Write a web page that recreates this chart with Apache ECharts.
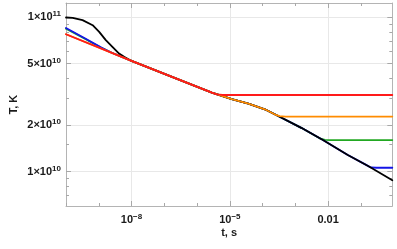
<!DOCTYPE html>
<html><head><meta charset="utf-8">
<script src="https://cdn.jsdelivr.net/npm/echarts@6/dist/echarts.min.js"></script>
<style>html,body{margin:0;padding:0;background:#fff}#c{width:397px;height:249px}</style>
</head><body><div id="c"></div>
<script>
// ---- data (t in s, T in K) ----
const blackT = [1e-10, 1.6e-10, 3.2e-10, 6.5e-10, 1.03e-9, 1.64e-9, 2.61e-9, 4.17e-9, 5.92e-9, 8.6e-9, 1e-8, 2.83e-6, 1.15e-5, 3.68e-5, 1.17e-4, 2.99e-4, 1.52e-3, 6.95e-3, 3.99e-2, 0.177, 0.91];
const blackV = [9.91e10, 9.86e10, 9.53e10, 8.84e10, 8.0e10, 7.08e10, 6.40e10, 5.80e10, 5.52e10, 5.29e10, 5.2e10, 3.24e10, 2.94e10, 2.75e10, 2.53e10, 2.29e10, 1.92e10, 1.60e10, 1.28e10, 1.08e10, 8.8e9];
const blueT = [1e-10, 4e-10, 1.2e-9, 2.5e-9, 1e-8, 2.83e-6, 1.15e-5, 3.68e-5, 1.17e-4, 2.99e-4, 1.52e-3, 6.95e-3, 3.99e-2, 0.14, 0.2, 0.3, 0.91];
const blueV = [8.49e10, 7.23e10, 6.33e10, 5.87e10, 5.2e10, 3.24e10, 2.94e10, 2.75e10, 2.53e10, 2.29e10, 1.92e10, 1.60e10, 1.28e10, 1.11e10, 1.065e10, 1.06e10, 1.06e10];
const greenT = [1e-10, 4e-10, 1.2e-9, 2.5e-9, 1e-8, 2.83e-6, 1.15e-5, 3.68e-5, 1.17e-4, 2.99e-4, 1.52e-3, 5.5e-3, 8e-3, 1.2e-2, 0.91];
const greenV = [8.38e10, 7.17e10, 6.31e10, 5.87e10, 5.2e10, 3.24e10, 2.94e10, 2.75e10, 2.53e10, 2.29e10, 1.92e10, 1.643e10, 1.605e10, 1.60e10, 1.60e10];
const orangeT = [1e-10, 1e-8, 2.83e-6, 1.15e-5, 3.68e-5, 1.17e-4, 2.4e-4, 3.3e-4, 5e-4, 0.91];
const orangeV = [7.73e10, 5.2e10, 3.24e10, 2.94e10, 2.75e10, 2.53e10, 2.34e10, 2.285e10, 2.27e10, 2.27e10];
const redT = [1e-10, 1e-8, 2.83e-6, 4e-6, 6e-6, 0.91];
const redV = [7.73e10, 5.2e10, 3.24e10, 3.16e10, 3.13e10, 3.13e10];

// ---- ticks ----
const xTickValues = [1e-8, 1e-5, 0.01];
const xTickLabels = ['10^-8', '10^-5', '0.01'];
const xMinorTicks = [1e-10, 1e-9, 1e-8, 1e-7, 1e-6, 1e-5, 1e-4, 1e-3, 1e-2, 1e-1];
const yTickValues = [1e10, 2e10, 5e10, 1e11];
const yTickLabels = ['1×10^10', '2×10^10', '5×10^10', '1×10^11'];
const yMinorTicks = [7e9, 8e9, 9e9, 1.5e10, 3e10, 4e10, 6e10, 7e10, 8e10, 9e10];
const xTitle = 't, s';
const yTitle = 'T, K';

const X_MIN = 1e-10, X_MAX = 0.91, Y_MIN = 6.0e9, Y_MAX = 1.23e11;
const frameColor = '#b4b4b4', tickColor = '#a8a8a8', gridColor = '#e8e8e8', textColor = '#1a1a1a';
const FONT = '"Liberation Sans", Arial, sans-serif';
const lg = Math.log10;

function richLabel(s) {
  const p = s.split('^');
  return p.length > 1 ? '{b|' + p[0] + '}{s|' + p[1].replace('-', '−') + '}' : '{b|' + s + '}';
}
const rich = {
  b: { fontSize: 11, fontWeight: 'bold', fontFamily: FONT, color: textColor, lineHeight: 14 },
  s: { fontSize: 8, fontWeight: 'bold', fontFamily: FONT, color: textColor, lineHeight: 8, verticalAlign: 'top' }
};
function fmtFrom(vals, labels) {
  return function (v) {
    for (let i = 0; i < vals.length; i++) if (Math.abs(lg(vals[i]) - v) < 1e-6) return richLabel(labels[i]);
    return '';
  };
}

const chart = echarts.init(document.getElementById('c'), null, { renderer: 'canvas' });
const pair = (T, V) => T.map((t, i) => [t, V[i]]);
const mk = (name, T, V, color) => ({
  name, type: 'line', data: pair(T, V), xAxisIndex: 0, yAxisIndex: 0,
  showSymbol: false, smooth: false,
  lineStyle: { color, width: 1.8, join: 'round', cap: 'round' }, itemStyle: { color }, animation: false
});

const decoX = (position, extra) => Object.assign({
  type: 'value', min: lg(X_MIN), max: lg(X_MAX), position,
  axisLine: { show: false }, splitLine: { show: false }, axisLabel: { show: false },
  axisTick: { show: false }
}, extra);
const decoY = (position, extra) => Object.assign({
  type: 'value', min: lg(Y_MIN), max: lg(Y_MAX), position,
  axisLine: { show: false }, splitLine: { show: false }, axisLabel: { show: false },
  axisTick: { show: false }
}, extra);

chart.setOption({
  animation: false,
  backgroundColor: '#fff',
  grid: { left: 64, right: 4.7, top: 3, bottom: 43, containLabel: false },
  xAxis: [
    { type: 'log', min: X_MIN, max: X_MAX, position: 'bottom',
      axisLine: { show: true, lineStyle: { color: frameColor, width: 1 } },
      axisTick: { show: false }, axisLabel: { show: false }, splitLine: { show: false },
      name: xTitle, nameLocation: 'middle', nameGap: 21,
      nameTextStyle: { fontSize: 11, fontWeight: 'bold', fontFamily: FONT, color: textColor } },
    decoX('bottom', {
      axisTick: { show: true, inside: true, length: 5, customValues: xTickValues.map(lg), lineStyle: { color: tickColor } },
      axisLabel: { show: true, margin: 7, customValues: xTickValues.map(lg), formatter: fmtFrom(xTickValues, xTickLabels), rich },
      splitLine: { show: true, lineStyle: { color: gridColor, width: 1 } } }),
    decoX('bottom', { axisTick: { show: true, inside: true, length: 3, customValues: xMinorTicks.map(lg), lineStyle: { color: tickColor } } }),
    decoX('top', { axisLine: { show: true, lineStyle: { color: frameColor } },
      axisTick: { show: true, inside: true, length: 3, customValues: xMinorTicks.map(lg), lineStyle: { color: tickColor } } }),
    decoX('top', { axisTick: { show: true, inside: true, length: 5, customValues: xTickValues.map(lg), lineStyle: { color: tickColor } } })
  ],
  yAxis: [
    { type: 'log', min: Y_MIN, max: Y_MAX, position: 'left',
      axisLine: { show: true, lineStyle: { color: frameColor, width: 1 } },
      axisTick: { show: false }, axisLabel: { show: false }, splitLine: { show: false },
      name: yTitle, nameLocation: 'middle', nameGap: 47,
      nameTextStyle: { fontSize: 11, fontWeight: 'bold', fontFamily: FONT, color: textColor } },
    decoY('left', {
      axisTick: { show: true, inside: true, length: 5, customValues: yTickValues.map(lg), lineStyle: { color: tickColor } },
      axisLabel: { show: true, margin: 5, customValues: yTickValues.map(lg), formatter: fmtFrom(yTickValues, yTickLabels), rich },
      splitLine: { show: true, lineStyle: { color: gridColor, width: 1 } } }),
    decoY('left', { axisTick: { show: true, inside: true, length: 3, customValues: yMinorTicks.map(lg), lineStyle: { color: tickColor } } }),
    decoY('right', { axisLine: { show: true, lineStyle: { color: frameColor } },
      axisTick: { show: true, inside: true, length: 3, customValues: yMinorTicks.map(lg), lineStyle: { color: tickColor } } }),
    decoY('right', { axisTick: { show: true, inside: true, length: 5, customValues: yTickValues.map(lg), lineStyle: { color: tickColor } } })
  ],
  series: [
    mk('green', greenT, greenV, '#22a822'),
    mk('blue', blueT, blueV, '#1414e6'),
    mk('black', blackT, blackV, '#000000'),
    mk('orange', orangeT, orangeV, '#ff8c00'),
    mk('red', redT, redV, '#ff1a1a')
  ]
});
</script></body></html>
